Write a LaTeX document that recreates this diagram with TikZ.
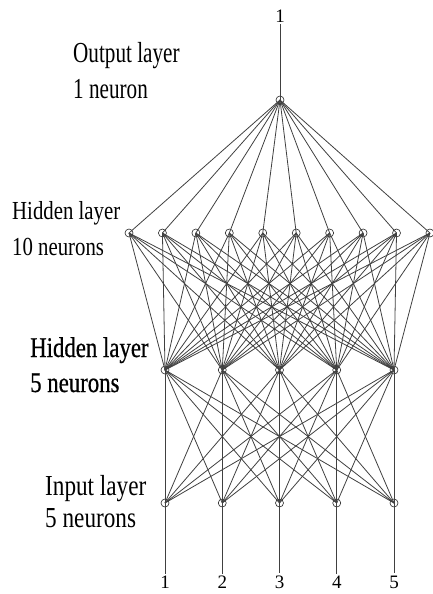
\documentclass[tikz,border=0pt]{standalone}
\usepackage{fontspec}
\setmainfont{Liberation Serif}
\newfontfamily\lblfontb[FakeBold=0.7]{Liberation Serif}
\newcommand{\nar}[2][0.8]{\scalebox{#1}[1]{#2}}
\begin{document}
\begin{tikzpicture}[x=1pt,y=-1pt,
  neuron/.style={circle,draw=black!85,inner sep=0pt,minimum size=8pt,line width=0.6pt},
  link/.style={line width=0.8pt,draw=black!75},
  lbl/.style={anchor=base west,inner sep=0pt,font=\rmfamily\fontsize{29}{34}\selectfont},
  lblsmall/.style={anchor=base west,inner sep=0pt,font=\rmfamily\fontsize{26}{31}\selectfont},
  lblbold/.style={anchor=base west,inner sep=0pt,font=\lblfontb\fontsize{28.5}{34}\selectfont},
  digit/.style={inner sep=2pt,font=\rmfamily\fontsize{19}{21}\selectfont}]
\useasboundingbox (0,0) rectangle (433,594);
% labels
\node[lbl] (ol1) at (73,63) {\nar[0.73]{Output layer}};
\node[lbl] (ol2) at (73,98) {\nar[0.73]{1 neuron}};
\node[lblsmall] (ha1) at (12,219) {\nar{Hidden layer}};
\node[lblsmall] (ha2) at (12,255) {\nar{10 neurons}};
\node[lblbold] (hb1) at (30,357) {\nar{Hidden layer}};
\node[lblbold] (hb2) at (30,392) {\nar{5 neurons}};
\node[lbl] (il1) at (45,495) {\nar{Input layer}};
\node[lbl] (il2) at (45,527) {\nar{5 neurons}};
% neurons
\node[neuron] (o) at (280,100) {};
\node[digit] (top) at (280,16) {1};
\foreach \i in {1,...,10} \node[neuron] (h\i) at ({129+33.44*(\i-1)},233) {};
\foreach \i in {1,...,5} {
  \node[neuron] (m\i) at ({165+57.25*(\i-1)},370) {};
  \node[neuron] (n\i) at ({165+57.25*(\i-1)},503) {};
  \node[digit] (d\i) at ({165+57.25*(\i-1)},582) {\i};
}
% connections
\draw[link] (top) -- (o.center);
\foreach \i in {1,...,10} {
  \draw[link] (o.center) -- (h\i.center);
  \foreach \j in {1,...,5} \draw[link] (h\i.center) -- (m\j.center);
}
\foreach \i in {1,...,5} {
  \foreach \j in {1,...,5} \draw[link] (m\i.center) -- (n\j.center);
  \draw[link] (n\i.center) -- (d\i.north);
}
\end{tikzpicture}
\end{document}
